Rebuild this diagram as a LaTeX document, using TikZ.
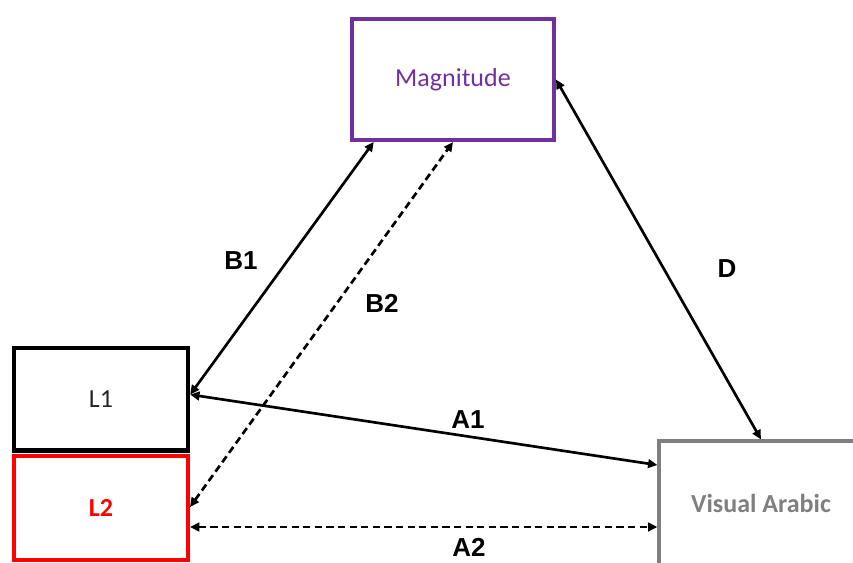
\documentclass[tikz,border=0pt]{standalone}
\usepackage{fontspec}
\setmainfont{Carlito}
\newfontfamily\labelfont{Liberation Sans}
\usetikzlibrary{arrows.meta,calc}
\definecolor{mgpurple}{HTML}{7030A0}
\definecolor{lred}{HTML}{FF0000}
\definecolor{vagray}{HTML}{7F7F7F}
\definecolor{ltext}{HTML}{262626}

\tikzset{
  box/.style={draw,rectangle,inner sep=0pt,font=\fontsize{19.5}{23}\selectfont},
  rel/.style={<->,line width=2pt},
  relfuture/.style={rel,dash pattern=on 5.5pt off 3.2pt},
  lbl/.style={font=\labelfont\bfseries\fontsize{19.5}{23}\selectfont,inner sep=0pt}
}

\begin{document}
\begin{tikzpicture}[>={Triangle[length=7pt,width=6.5pt]},x=0.75pt,y=-0.75pt]
  \useasboundingbox (0,0) rectangle (853,562);

  % ===== BOXES =====
  \node[box,mgpurple,line width=3pt,minimum width=151.5pt,minimum height=90.75pt]
        (mag) at (453,79.5) {Magnitude};
  \node[box,black,line width=3.3pt,minimum width=130.5pt,minimum height=76.9pt,
        text=ltext] (lone) at (101,399.25) {L1};
  \node[box,lred,line width=3pt,minimum width=130.5pt,minimum height=78pt,
        font=\fontsize{19.5}{23}\selectfont\bfseries] (ltwo) at (101,508) {L2};
  \node[box,vagray,line width=2.4pt,minimum width=153pt,minimum height=93pt,
        font=\fontsize{19.5}{23}\selectfont\bfseries] (visar) at (761,503) {Visual Arabic};

  % ===== CONNECTIONS =====
  \draw[rel] ([yshift=3.5pt]lone.east) -- ($(mag.south west)!0.115!(mag.south east)$);
  \draw[relfuture] ([yshift=0.75pt]ltwo.east) -- (mag.south);
  \draw[rel] (mag.east) -- (visar.north);
  \draw[rel] ([yshift=3.5pt]lone.east) -- ([yshift=28.5pt]visar.west);
  \draw[relfuture] ([yshift=-14.25pt]ltwo.east) -- ([yshift=-18pt]visar.west);

  % ===== LABELS =====
  \node[lbl] (lblbone) at (241,261) {B1};
  \node[lbl] (lblbtwo) at (382,303) {B2};
  \node[lbl] (lbld) at (727,269) {D};
  \node[lbl] (lblaone) at (468,420) {A1};
  \node[lbl] (lblatwo) at (469,547) {A2};

\end{tikzpicture}
\end{document}
